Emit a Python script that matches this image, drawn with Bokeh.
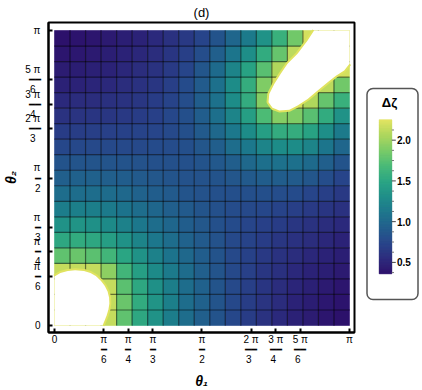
import numpy as np
from bokeh.plotting import figure
from bokeh.layouts import row
from bokeh.models import (ColumnDataSource, LinearColorMapper, FixedTicker, Range1d, Quad)
from bokeh.embed import file_html
from bokeh.resources import INLINE
from bokeh.core.properties import value

PI = np.pi
N_CELLS = 19          # mesh cells per axis
H = 2.25              # value inside the excluded (white) regions

# Delta zeta per mesh cell; rows from theta2 = 0 (bottom) to pi (top),
# columns from theta1 = 0 (left) to pi (right)
dzeta_rows = [
    [H, H, H, 2.15, 1.78, 1.52, 1.35, 1.18, 1.05, 0.95, 0.85, 0.76, 0.68, 0.61, 0.55, 0.49, 0.45, 0.41, 0.38],
    [H, H, H, 2.15, 1.82, 1.55, 1.37, 1.20, 1.06, 0.96, 0.86, 0.77, 0.69, 0.62, 0.56, 0.50, 0.46, 0.42, 0.39],
    [H, H, H, 2.15, 1.76, 1.52, 1.34, 1.19, 1.06, 0.96, 0.86, 0.78, 0.70, 0.63, 0.57, 0.52, 0.48, 0.44, 0.41],
    [2.15, 2.15, 2.15, 1.95, 1.65, 1.45, 1.29, 1.15, 1.04, 0.95, 0.86, 0.78, 0.71, 0.64, 0.59, 0.54, 0.50, 0.47, 0.44],
    [1.78, 1.82, 1.76, 1.65, 1.50, 1.35, 1.21, 1.10, 1.01, 0.93, 0.85, 0.78, 0.72, 0.66, 0.61, 0.57, 0.53, 0.50, 0.47],
    [1.52, 1.55, 1.52, 1.45, 1.35, 1.24, 1.13, 1.05, 0.97, 0.90, 0.84, 0.78, 0.73, 0.68, 0.64, 0.60, 0.57, 0.53, 0.50],
    [1.35, 1.37, 1.34, 1.29, 1.21, 1.13, 1.06, 1.00, 0.93, 0.88, 0.83, 0.79, 0.75, 0.71, 0.68, 0.64, 0.61, 0.57, 0.55],
    [1.18, 1.20, 1.19, 1.15, 1.10, 1.05, 1.00, 0.95, 0.90, 0.86, 0.83, 0.80, 0.78, 0.76, 0.73, 0.70, 0.67, 0.63, 0.60],
    [1.05, 1.06, 1.06, 1.04, 1.01, 0.97, 0.93, 0.90, 0.86, 0.84, 0.83, 0.82, 0.82, 0.82, 0.81, 0.79, 0.75, 0.70, 0.66],
    [0.95, 0.96, 0.96, 0.95, 0.93, 0.90, 0.88, 0.86, 0.84, 0.84, 0.85, 0.87, 0.90, 0.93, 0.93, 0.91, 0.87, 0.81, 0.74],
    [0.85, 0.86, 0.86, 0.86, 0.85, 0.84, 0.83, 0.83, 0.83, 0.85, 0.89, 0.94, 1.01, 1.07, 1.09, 1.08, 1.03, 0.95, 0.85],
    [0.76, 0.77, 0.78, 0.78, 0.78, 0.78, 0.79, 0.80, 0.82, 0.87, 0.94, 1.05, 1.14, 1.24, 1.30, 1.30, 1.24, 1.12, 1.00],
    [0.68, 0.69, 0.70, 0.71, 0.72, 0.73, 0.75, 0.78, 0.82, 0.90, 1.01, 1.14, 1.30, 1.45, 1.56, 1.57, 1.48, 1.32, 1.15],
    [0.61, 0.62, 0.63, 0.64, 0.66, 0.68, 0.71, 0.76, 0.82, 0.93, 1.07, 1.24, 1.45, 1.70, 1.92, 1.90, 1.75, 1.55, 1.35],
    [0.55, 0.56, 0.57, 0.59, 0.61, 0.64, 0.68, 0.73, 0.81, 0.93, 1.09, 1.30, 1.56, 1.92, H, 2.20, 2.08, 1.80, 1.60],
    [0.49, 0.50, 0.52, 0.54, 0.57, 0.60, 0.64, 0.70, 0.79, 0.91, 1.08, 1.30, 1.57, 1.90, 2.20, H, H, 2.12, 1.85],
    [0.45, 0.46, 0.48, 0.50, 0.53, 0.57, 0.61, 0.67, 0.75, 0.87, 1.03, 1.24, 1.48, 1.75, 2.08, H, H, H, 2.20],
    [0.41, 0.42, 0.44, 0.47, 0.50, 0.53, 0.57, 0.63, 0.70, 0.81, 0.95, 1.12, 1.32, 1.55, 1.80, 2.12, H, H, H],
    [0.38, 0.39, 0.41, 0.44, 0.47, 0.50, 0.55, 0.60, 0.66, 0.74, 0.85, 1.00, 1.15, 1.35, 1.60, 1.85, 2.20, H, H],
]

# boundaries of the excluded regions (in units of pi)
hole_bl_t1 = [0.0, 0.0, 0.02, 0.045, 0.07, 0.10, 0.122, 0.14, 0.157, 0.17, 0.18, 0.185, 0.186, 0.183, 0.177, 0.17, 0.163]
hole_bl_t2 = [0.0, 0.166, 0.178, 0.185, 0.187, 0.185, 0.178, 0.168, 0.152, 0.135, 0.115, 0.095, 0.075, 0.055, 0.035, 0.017, 0.0]
hole_tr_t1 = [1.0, 1.0, 0.982, 0.954, 0.926, 0.892, 0.858, 0.824, 0.796, 0.762, 0.739, 0.7255, 0.728, 0.745, 0.767, 0.79, 0.824, 0.858, 0.88]
hole_tr_t2 = [1.0, 0.887, 0.864, 0.847, 0.825, 0.797, 0.768, 0.746, 0.731, 0.729, 0.738, 0.757, 0.785, 0.819, 0.853, 0.887, 0.921, 0.966, 1.0]

# colour bar
z_low, z_high = 0.36, 2.25
cb_ticks = [0.5, 1.0, 1.5, 2.0]
cb_minor = [0.375, 0.625, 0.75, 0.875, 1.125, 1.25, 1.375, 1.625, 1.75, 1.875, 2.125]
cb_title = "Δζ"

# axis ticks (fractions of pi)
tick_fracs = [0.0, 1/6, 1/4, 1/3, 1/2, 2/3, 3/4, 5/6, 1.0]
tick_num = ["0", "π", "π", "π", "π", "2 π", "3 π", "5 π", "π"]
tick_den = ["", "6", "4", "3", "2", "3", "4", "6", ""]

# ---------------- palette (viridis-like) ----------------
anchor_pos = [0, .1, .2, .3, .4, .5, .6, .7, .8, .9, 1.0]
anchor_col = ["#2c0f6a", "#2b2a7c", "#27448a", "#215d8c", "#1c758c", "#1d8c88",
              "#29a483", "#47b977", "#77ca67", "#abd65c", "#e0e35f"]
def _rgb(h):
    return [int(h[k:k + 2], 16) for k in (1, 3, 5)]
cols = np.array([_rgb(c) for c in anchor_col], dtype=float)
tt = np.linspace(0, 1, 256)
palette = ["#%02x%02x%02x" % tuple(int(round(np.interp(t, anchor_pos, cols[:, c]))) for c in range(3)) for t in tt]
mapper = LinearColorMapper(palette=palette, low=z_low, high=z_high)

# ---------------- main figure ----------------
FONT = "Liberation Sans"
FRAME_TOP, FRAME_H = 22, 310
p = figure(frame_width=306, frame_height=FRAME_H,
           x_range=Range1d(-0.0639, PI + 0.0533), y_range=Range1d(-0.0745, PI + 0.0852),
           output_backend="svg", toolbar_location=None, title="(d)",
           min_border_left=43, min_border_top=FRAME_TOP, min_border_right=3, min_border_bottom=0)
p.title.align = "center"
p.title.text_font = FONT
p.title.text_font_size = "13px"
p.title.text_font_style = "normal"
p.title.text_color = "black"
p.title.standoff = 5
p.background_fill_color = "white"
p.border_fill_color = "white"
p.grid.visible = False
p.outline_line_color = "black"
p.outline_line_width = 2

cell = PI / N_CELLS
xs, ys, zs = [], [], []
for j, r in enumerate(dzeta_rows):
    for i, z in enumerate(r):
        xs.append((i + 0.5) * cell)
        ys.append((j + 0.5) * cell)
        zs.append(z)
src = ColumnDataSource(dict(x=xs, y=ys, z=zs))
p.rect(x="x", y="y", width=cell, height=cell, source=src,
       fill_color={"field": "z", "transform": mapper},
       line_color={"field": "z", "transform": mapper}, line_width=0.6)

edges = [k * cell for k in range(1, N_CELLS)]
p.multi_line(xs=[[e, e] for e in edges], ys=[[0, PI] for _ in edges],
             line_color="black", line_alpha=0.5, line_width=1.2)
p.multi_line(xs=[[0, PI] for _ in edges], ys=[[e, e] for e in edges],
             line_color="black", line_alpha=0.5, line_width=1.2)

fringe = palette[-1]
bl_x = [v * PI for v in hole_bl_t1]
bl_y = [v * PI for v in hole_bl_t2]
tr_x = [v * PI for v in hole_tr_t1]
tr_y = [v * PI for v in hole_tr_t2]
p.line(bl_x[1:], bl_y[1:], line_color=fringe, line_width=4)
p.line(tr_x[1:], tr_y[1:], line_color=fringe, line_width=4)
p.patch(bl_x, bl_y, fill_color="white", line_color=None)
p.patch(tr_x, tr_y, fill_color="white", line_color=None)

# ---------------- axes ----------------
ticks = [f * PI for f in tick_fracs]
def frac_label(num, den):
    if not den:
        return num
    if len(num) > 1:
        return num + "\n" + "━━" + "\n" + den + "\u2002"
    return num + "\n" + "━" + "\n" + den

overrides = {t: frac_label(n, d) for t, n, d in zip(ticks, tick_num, tick_den)}
for ax in (p.xaxis[0], p.yaxis[0]):
    ax.ticker = FixedTicker(ticks=ticks, minor_ticks=[])
    ax.major_label_overrides = overrides
    ax.major_label_text_font = FONT
    ax.major_label_text_font_size = "10px"
    ax.major_label_text_color = "black"
    ax.major_label_text_line_height = 0.92
    ax.major_tick_in = 4
    ax.major_tick_out = 0
    ax.major_tick_line_width = 2
    ax.major_tick_line_color = "black"
    ax.minor_tick_line_color = None
    ax.axis_line_width = 2
    ax.axis_line_color = "black"
    ax.axis_label_text_font = FONT
    ax.axis_label_text_font_style = "bold italic"
    ax.axis_label_text_font_size = "14px"
    ax.axis_label_text_color = "black"
p.xaxis.major_label_standoff = 1
p.yaxis.major_label_standoff = 8
p.xaxis.axis_label = "θ₁"
p.yaxis.axis_label = "θ₂"
p.xaxis.axis_label_standoff = 5
p.yaxis.axis_label_standoff = 3

# ---------------- colour bar (own small canvas, value scale on y) ----------------
# the row aligns this canvas' frame with the main frame (page y 22 .. 332)
px_per_unit = 154 / (z_high - z_low)
y_top = z_high + (119.3 - FRAME_TOP) / px_per_unit
y_bot = z_low - (FRAME_TOP + FRAME_H - 273.3) / px_per_unit
def at_page_y(py):
    return y_top - (py - FRAME_TOP) / px_per_unit

c = figure(frame_width=62, frame_height=FRAME_H, x_range=Range1d(0, 62), y_range=Range1d(y_bot, y_top),
           output_backend="svg", toolbar_location=None,
           x_axis_location=None, y_axis_location=None,
           min_border_left=0, min_border_right=0, min_border_top=0, min_border_bottom=0)
c.title.text_font_size = "0px"
c.title.standoff = 0
c.outline_line_color = None
c.grid.visible = False
c.background_fill_color = "white"
c.border_fill_color = "white"

BAR_L, BAR_R = 21.7, 34.3
zedges = np.linspace(z_low, z_high, len(palette) + 1)
c.quad(left=BAR_L, right=BAR_R, bottom=zedges[:-1], top=zedges[1:],
       fill_color=palette, line_color=palette, line_width=0.6)
c.segment(x0=BAR_R, x1=BAR_R + 4, y0=cb_ticks, y1=cb_ticks, line_color="#444444", line_width=1)
c.segment(x0=BAR_R, x1=BAR_R + 2.2, y0=cb_minor, y1=cb_minor, line_color="#777777", line_width=1)
c.text(x=BAR_R + 5.2, y=cb_ticks, text=["%.1f" % t for t in cb_ticks],
       text_font=value(FONT), text_font_size="10px", text_font_style="bold",
       text_color="black", text_align="left", text_baseline="middle")
c.text(x=[32], y=[at_page_y(102)], text=[cb_title],
       text_font=value(FONT), text_font_size="13px", text_font_style="bold",
       text_color="black", text_align="center", text_baseline="middle")
box_kw = dict(left=9.5, right=60.5, top=at_page_y(88), bottom=at_page_y(299),
              fill_color=None, line_color="#555555", line_width=1.5)
if "border_radius" in Quad.properties():
    box_kw["border_radius"] = 6
c.quad(**box_kw)

layout = row(p, c)
open("out.html", "w").write(file_html(layout, INLINE))
